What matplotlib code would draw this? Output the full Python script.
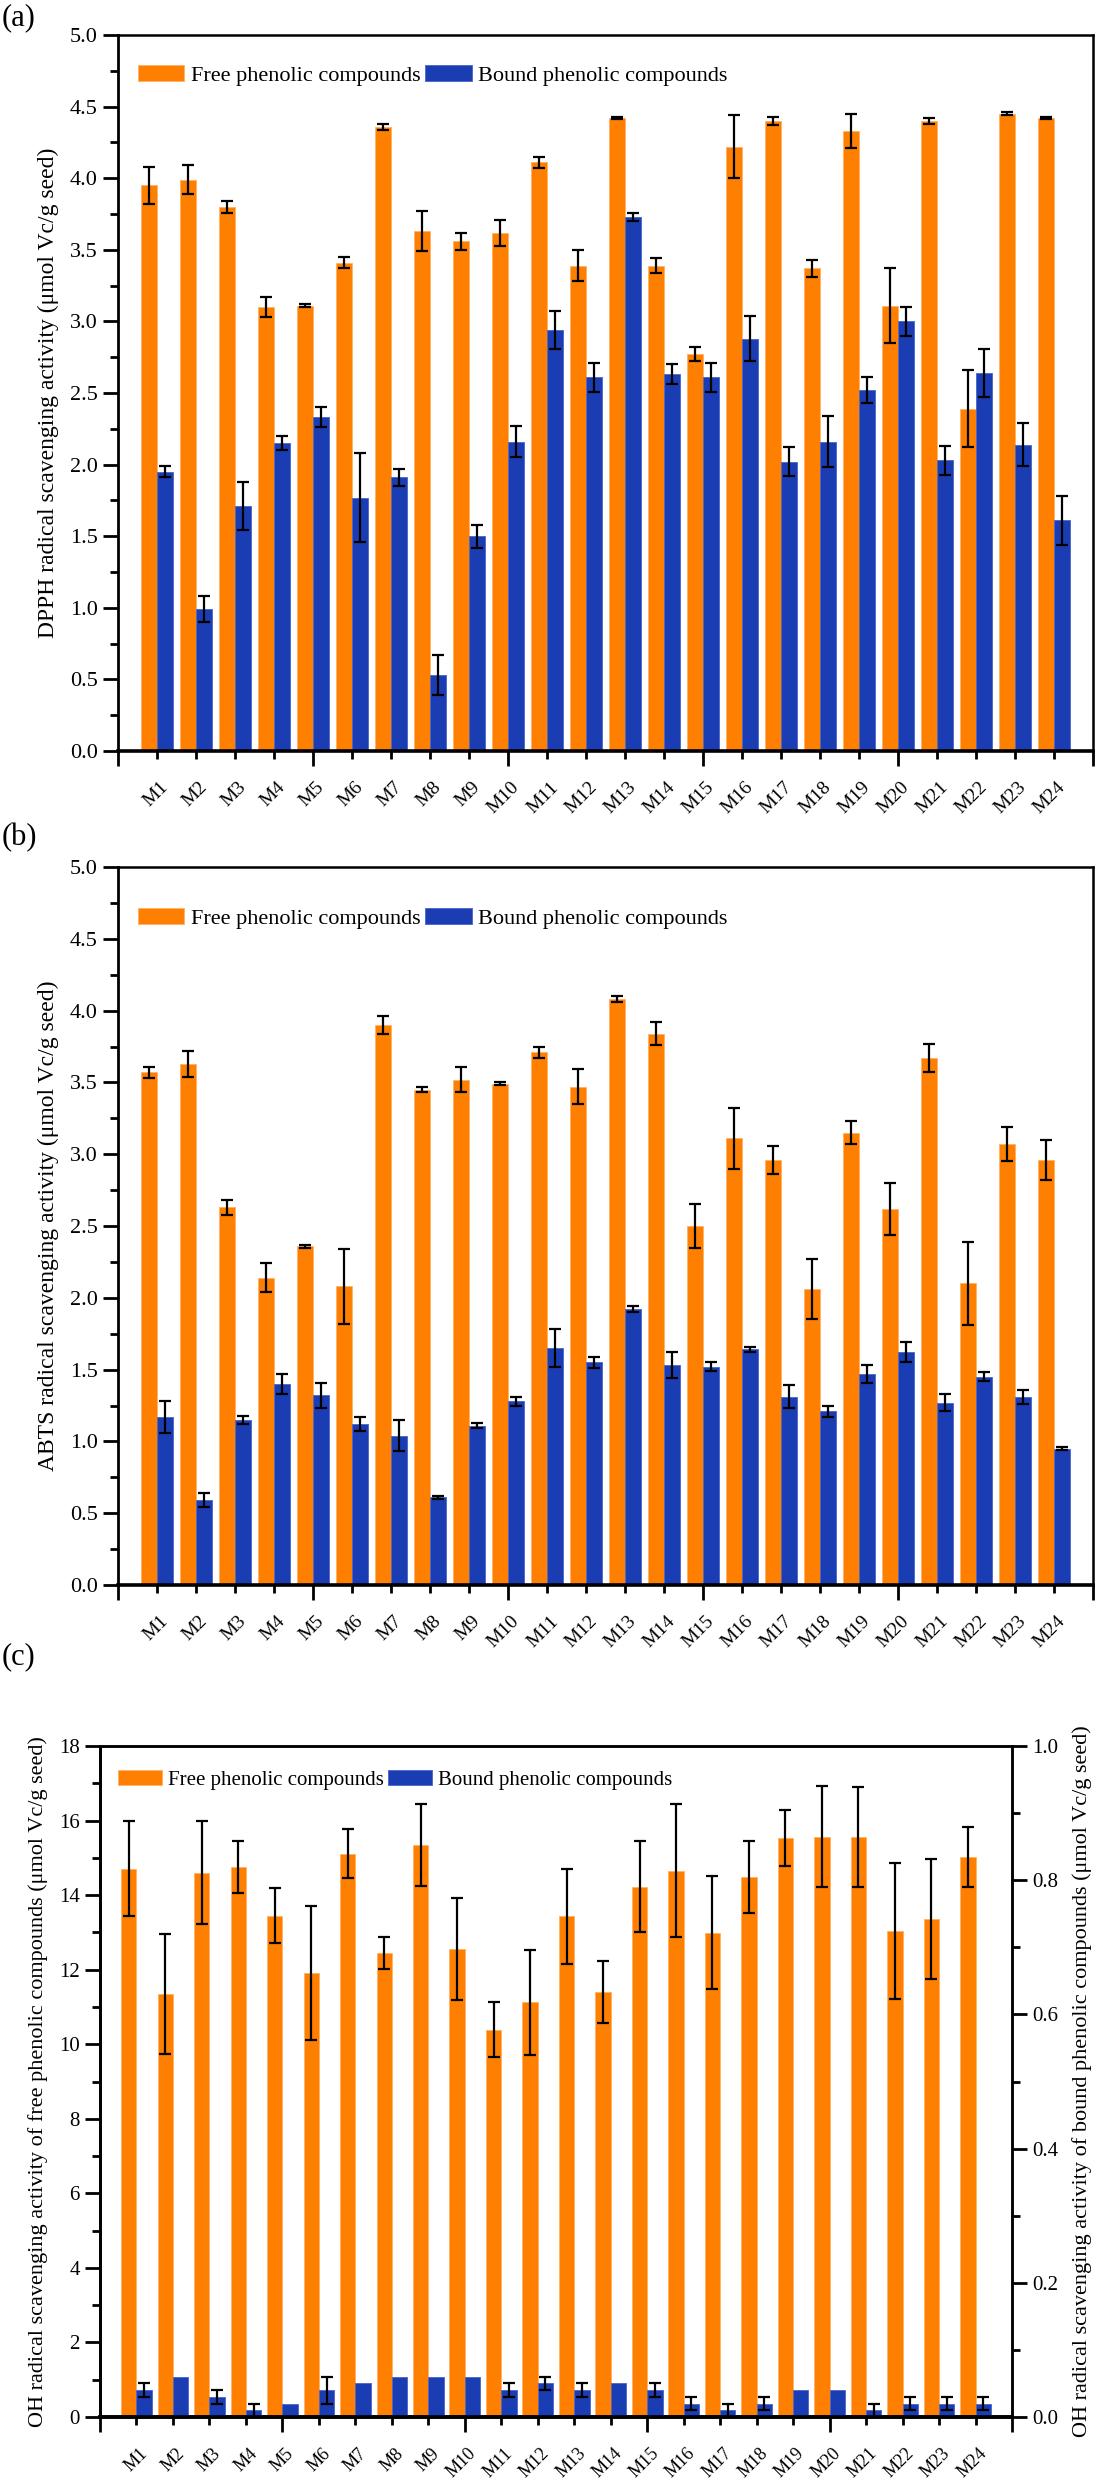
import numpy as np
import matplotlib
matplotlib.use("Agg")
import matplotlib.pyplot as plt
from matplotlib.ticker import MultipleLocator, FixedLocator, NullFormatter

plt.rcParams['font.family'] = ['Liberation Serif', 'DejaVu Serif']
plt.rcParams['mathtext.fontset'] = 'stix'

labels = ["M" + str(i) for i in range(1, 25)]

# (a) DPPH
dpph_free = [3.95, 3.99, 3.80, 3.10, 3.11, 3.41, 4.36, 3.63, 3.56, 3.62, 4.11, 3.39,
             4.42, 3.39, 2.77, 4.22, 4.40, 3.37, 4.33, 3.11, 4.40, 2.39, 4.45, 4.42]
dpph_free_err = [0.13, 0.10, 0.04, 0.07, 0.01, 0.04, 0.02, 0.14, 0.06, 0.09, 0.04, 0.11,
                 0.01, 0.05, 0.05, 0.22, 0.03, 0.06, 0.12, 0.26, 0.02, 0.27, 0.01, 0.01]
dpph_bound = [1.95, 0.99, 1.71, 2.15, 2.33, 1.77, 1.91, 0.53, 1.50, 2.16, 2.94, 2.61,
              3.73, 2.63, 2.61, 2.88, 2.02, 2.16, 2.52, 3.00, 2.03, 2.64, 2.14, 1.61]
dpph_bound_err = [0.04, 0.09, 0.17, 0.05, 0.07, 0.31, 0.06, 0.14, 0.08, 0.11, 0.13, 0.10,
                  0.03, 0.07, 0.10, 0.16, 0.10, 0.18, 0.09, 0.10, 0.10, 0.17, 0.15, 0.17]

# (b) ABTS
abts_free = [3.57, 3.63, 2.63, 2.14, 2.36, 2.08, 3.90, 3.45, 3.52, 3.49, 3.71, 3.47,
             4.08, 3.84, 2.50, 3.11, 2.96, 2.06, 3.15, 2.62, 3.67, 2.10, 3.07, 2.96]
abts_free_err = [0.04, 0.09, 0.05, 0.10, 0.01, 0.26, 0.06, 0.02, 0.09, 0.01, 0.04, 0.12,
                 0.02, 0.08, 0.15, 0.21, 0.10, 0.21, 0.08, 0.18, 0.10, 0.29, 0.12, 0.14]
abts_bound = [1.17, 0.59, 1.15, 1.40, 1.32, 1.12, 1.04, 0.61, 1.11, 1.28, 1.65, 1.55,
              1.92, 1.53, 1.52, 1.64, 1.31, 1.21, 1.47, 1.62, 1.27, 1.45, 1.31, 0.95]
abts_bound_err = [0.11, 0.05, 0.03, 0.07, 0.09, 0.05, 0.11, 0.01, 0.02, 0.03, 0.13, 0.04,
                  0.02, 0.09, 0.03, 0.02, 0.08, 0.04, 0.06, 0.07, 0.06, 0.03, 0.05, 0.01]

# (c) OH (free on left axis, bound on right axis)
oh_free = [14.71, 11.35, 14.60, 14.76, 13.45, 11.91, 15.11, 12.45, 15.35, 12.55, 10.39, 11.12,
           13.43, 11.39, 14.22, 14.66, 12.99, 14.48, 15.52, 15.57, 15.56, 13.03, 13.35, 15.02]
oh_free_err = [1.27, 1.61, 1.38, 0.69, 0.74, 1.80, 0.66, 0.42, 1.10, 1.37, 0.73, 1.42,
               1.28, 0.83, 1.22, 1.79, 1.52, 0.96, 0.75, 1.36, 1.35, 1.82, 1.61, 0.81]
oh_bound = [0.04, 0.06, 0.03, 0.01, 0.02, 0.04, 0.05, 0.06, 0.06, 0.06, 0.04, 0.05,
            0.04, 0.05, 0.04, 0.02, 0.01, 0.02, 0.04, 0.04, 0.01, 0.02, 0.02, 0.02]
oh_bound_err = [0.01, 0.00, 0.01, 0.01, 0.00, 0.02, 0.00, 0.00, 0.00, 0.00, 0.01, 0.01,
                0.01, 0.00, 0.01, 0.01, 0.01, 0.01, 0.00, 0.00, 0.01, 0.01, 0.01, 0.01]

orange = "#FF8000"
blue = "#1B3DB4"
W, H = 1100, 2481
width = 0.42
x = np.arange(1, 25)


def px_axes(fig, left, right, top, bottom):
    return fig.add_axes([left / W, 1 - bottom / H, (right - left) / W, (bottom - top) / H])


def style_x(ax, fs):
    ax.set_xlim(0, 25)
    ax.xaxis.set_major_locator(MultipleLocator(5))
    ax.xaxis.set_major_formatter(NullFormatter())
    ax.xaxis.set_minor_locator(FixedLocator(x))
    ax.xaxis.set_minor_formatter(NullFormatter())
    ax.tick_params(axis="x", which="major", direction="out", length=11, width=2)
    ax.tick_params(axis="x", which="minor", direction="out", length=6, width=2)
    for xi, lab in zip(x, labels):
        ax.annotate(lab, xy=(xi, 0), xycoords=("data", "axes fraction"),
                    xytext=(2, -20), textcoords="offset points",
                    rotation=45, ha="right", va="top", rotation_mode="anchor",
                    fontsize=fs)


def bars(ax, fvals, ferr, bvals, berr, cap=4.5, bax=None):
    bax = bax or ax
    fb = ax.bar(x - width / 2, fvals, width, color=orange, edgecolor="#FFB066", linewidth=0.6,
                label="Free phenolic compounds", zorder=2)
    bb = bax.bar(x + width / 2, bvals, width, color=blue, edgecolor="#4A64C8", linewidth=0.6,
                 label="Bound phenolic compounds", zorder=2)
    ax.errorbar(x - width / 2, fvals, yerr=ferr, fmt="none", ecolor="black",
                elinewidth=1.6, capsize=cap, capthick=1.6, zorder=3)
    berr = np.array(berr)
    keep = berr > 0
    bax.errorbar((x + width / 2)[keep], np.array(bvals)[keep], yerr=berr[keep], fmt="none",
                 ecolor="black", elinewidth=1.6, capsize=cap, capthick=1.6, zorder=3)
    return fb, bb


def spines(ax):
    ax.spines["bottom"].set_linewidth(2.6)
    ax.spines["left"].set_linewidth(2.0)
    ax.spines["top"].set_linewidth(1.8)
    ax.spines["right"].set_linewidth(1.8)


fig = plt.figure(figsize=(W / 100, H / 100), dpi=100)

# ---- panel (a) and (b)
for (top, bot, fv, fe, bv, be, ylab, tag, tagy, legy) in [
        (35, 751, dpph_free, dpph_free_err, dpph_bound, dpph_bound_err,
         "DPPH radical scavenging activity (μmol Vc/g seed)", "(a)", 18, 0.958),
        (867, 1585, abts_free, abts_free_err, abts_bound, abts_bound_err,
         "ABTS radical scavenging activity (μmol Vc/g seed)", "(b)", 838, 0.943)]:
    ax = px_axes(fig, 118, 1093, top, bot)
    fb, bb = bars(ax, fv, fe, bv, be)
    ax.set_ylim(0, 5.0)
    ax.yaxis.set_major_locator(MultipleLocator(0.5))
    ax.yaxis.set_minor_locator(MultipleLocator(0.25))
    ax.yaxis.set_major_formatter(plt.FormatStrFormatter("%.1f"))
    ax.tick_params(axis="y", which="major", direction="out", length=11, width=2,
                   labelsize=16, right=False)
    ax.tick_params(axis="y", which="minor", direction="out", length=6, width=2, right=False)
    style_x(ax, 14)
    spines(ax)
    ax.set_ylabel(ylab, fontsize=17, labelpad=8)
    ax.legend(handles=[fb, bb], loc="upper left", bbox_to_anchor=(0.02, legy), ncol=2,
              frameon=False, fontsize=16, handlelength=2.1, handleheight=0.75,
              handletextpad=0.3, columnspacing=0.2, borderpad=0, borderaxespad=0)
    fig.text(2 / W, 1 - tagy / H, tag, fontsize=22, va="center", ha="left")

# ---- panel (c)
axc = px_axes(fig, 100, 1012, 1746, 2417)
axr = axc.twinx()
fb, bb = bars(axc, oh_free, oh_free_err, oh_bound, oh_bound_err, cap=4, bax=axr)
axc.set_ylim(0, 18)
axr.set_ylim(0, 1.0)
axc.yaxis.set_major_locator(MultipleLocator(2))
axc.yaxis.set_minor_locator(MultipleLocator(1))
axr.yaxis.set_major_locator(MultipleLocator(0.2))
axr.yaxis.set_minor_locator(MultipleLocator(0.1))
axr.yaxis.set_major_formatter(plt.FormatStrFormatter("%.1f"))
axc.tick_params(axis="y", which="major", direction="out", length=11, width=2, labelsize=15)
axc.tick_params(axis="y", which="minor", direction="out", length=6, width=2)
axr.tick_params(axis="y", which="major", direction="out", length=11, width=2, labelsize=15)
axr.tick_params(axis="y", which="minor", direction="out", length=6, width=2)
style_x(axc, 13)
spines(axc)
spines(axr)
axc.set_ylabel("OH radical scavenging activity of free phenolic compounds (μmol Vc/g seed)",
               fontsize=16, labelpad=8)
axr.set_ylabel("OH radical scavenging activity of bound phenolic compounds (μmol Vc/g seed)",
               fontsize=16, labelpad=10, rotation=90)
axr.legend(handles=[fb, bb], loc="upper left", bbox_to_anchor=(0.02, 0.964), ncol=2,
           frameon=False, fontsize=15, handlelength=2.1, handleheight=0.75,
           handletextpad=0.3, columnspacing=0.2, borderpad=0, borderaxespad=0)
fig.text(2 / W, 1 - 1657 / H, "(c)", fontsize=22, va="center", ha="left")

fig.savefig("out.png", dpi=100, facecolor="white")
